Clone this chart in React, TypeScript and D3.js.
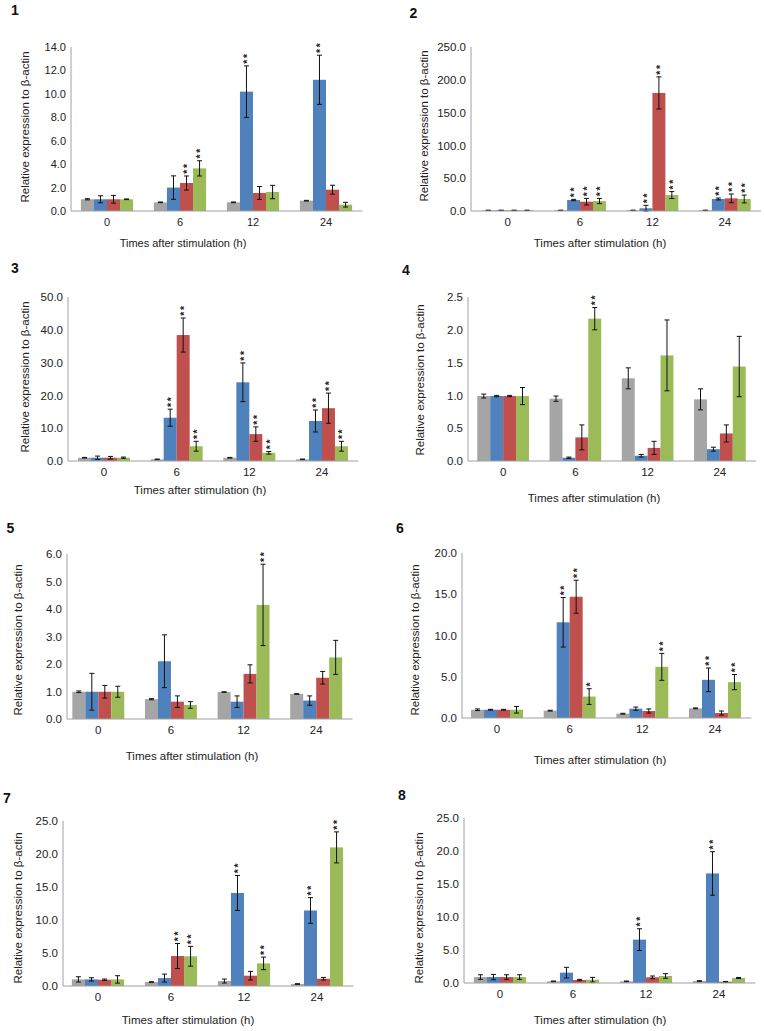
import React from "react";
import * as d3 from "d3";

const CATEGORIES = ["0", "6", "12", "24"];
const SERIES = ["Series 1", "Series 2", "Series 3", "Series 4"];
const COLORS = ["#A5A5A5", "#4F81BD", "#C0504D", "#9BBB59"];
const X_TITLE = "Times after stimulation (h)";
const Y_TITLE = "Relative expression to β-actin";

// Panel 1
const p1Values = [[1.0, 0.74, 0.74, 0.88], [1.0, 2.0, 10.19, 11.2], [1.0, 2.39, 1.54, 1.82], [1.0, 3.64, 1.62, 0.54]];
const p1Errors = [[0.05, 0.03, 0.03, 0.03], [0.3, 1.0, 2.2, 2.1], [0.33, 0.6, 0.55, 0.38], [0.03, 0.65, 0.57, 0.2]];
const p1Stars = [[0, 0, 0, 0], [0, 0, 2, 2], [0, 2, 0, 0], [0, 2, 0, 0]];
const p1Ticks = [0, 2, 4, 6, 8, 10, 12, 14];

// Panel 2
const p2Values = [[1, 1, 1, 1], [1, 16.7, 4.1, 18.3], [1, 14.2, 180, 19.3], [1, 15.2, 24.3, 18.3]];
const p2Errors = [[0.3, 0.3, 0.3, 0.3], [0.3, 1.0, 4.5, 1.5], [0.3, 5, 24.5, 6.6], [0.3, 4, 5.3, 6]];
const p2Stars = [[0, 0, 0, 0], [0, 2, 2, 2], [0, 2, 2, 2], [0, 2, 2, 2]];
const p2Ticks = [0, 50, 100, 150, 200, 250];

// Panel 3
const p3Values = [[1.0, 0.5, 1.0, 0.5], [1.0, 13.2, 24.0, 12.2], [1.0, 38.4, 8.2, 16.1], [1.0, 4.5, 2.5, 4.5]];
const p3Errors = [[0.1, 0.1, 0.1, 0.1], [0.5, 2.6, 5.9, 3.35], [0.4, 5.2, 2.2, 4.6], [0.2, 1.5, 0.4, 1.5]];
const p3Stars = [[0, 0, 0, 0], [0, 2, 2, 2], [0, 2, 2, 2], [0, 2, 2, 2]];
const p3Ticks = [0, 10, 20, 30, 40, 50];

// Panel 4
const p4Values = [[0.99, 0.95, 1.26, 0.94], [0.99, 0.05, 0.08, 0.18], [0.99, 0.36, 0.2, 0.42], [0.99, 2.17, 1.61, 1.44]];
const p4Errors = [[0.03, 0.04, 0.16, 0.16], [0.01, 0.01, 0.02, 0.03], [0.01, 0.19, 0.1, 0.13], [0.13, 0.17, 0.54, 0.46]];
const p4Stars = [[0, 0, 0, 0], [0, 0, 0, 0], [0, 0, 0, 0], [0, 2, 0, 0]];
const p4Ticks = [0, 0.5, 1.0, 1.5, 2.0, 2.5];

// Panel 5
const p5Values = [[0.99, 0.72, 0.98, 0.91], [0.99, 2.1, 0.63, 0.67], [0.99, 0.63, 1.64, 1.5], [0.99, 0.51, 4.15, 2.24]];
const p5Errors = [[0.03, 0.02, 0.01, 0.01], [0.67, 0.96, 0.21, 0.17], [0.23, 0.21, 0.33, 0.23], [0.2, 0.12, 1.48, 0.62]];
const p5Stars = [[0, 0, 0, 0], [0, 0, 0, 0], [0, 0, 0, 0], [0, 0, 2, 0]];
const p5Ticks = [0, 1, 2, 3, 4, 5, 6];

// Panel 6
const p6Values = [[1.0, 0.89, 0.52, 1.17], [1.0, 11.6, 1.13, 4.63], [1.0, 14.7, 0.85, 0.6], [1.0, 2.6, 6.2, 4.35]];
const p6Errors = [[0.1, 0.05, 0.05, 0.05], [0.05, 3.0, 0.2, 1.43], [0.05, 2.0, 0.25, 0.25], [0.4, 0.95, 1.63, 0.92]];
const p6Stars = [[0, 0, 0, 0], [0, 2, 0, 2], [0, 2, 0, 0], [0, 1, 2, 2]];
const p6Ticks = [0, 5, 10, 15, 20];

// Panel 7
const p7Values = [[1.0, 0.6, 0.75, 0.3], [1.0, 1.2, 14.1, 11.44], [0.95, 4.54, 1.56, 1.1], [1.0, 4.5, 3.43, 21.0]];
const p7Errors = [[0.4, 0.05, 0.3, 0.05], [0.25, 0.6, 2.65, 1.95], [0.1, 1.9, 0.65, 0.2], [0.56, 1.5, 0.95, 2.35]];
const p7Stars = [[0, 0, 0, 0], [0, 0, 2, 2], [0, 2, 0, 0], [0, 2, 2, 2]];
const p7Ticks = [0, 5, 10, 15, 20, 25];

// Panel 8
const p8Values = [[0.9, 0.25, 0.25, 0.3], [0.9, 1.57, 6.57, 16.6], [0.9, 0.45, 0.86, 0.2], [0.9, 0.5, 1.06, 0.76]];
const p8Errors = [[0.35, 0.05, 0.05, 0.05], [0.4, 0.8, 1.65, 3.3], [0.35, 0.1, 0.2, 0.03], [0.35, 0.35, 0.35, 0.08]];
const p8Stars = [[0, 0, 0, 0], [0, 0, 2, 2], [0, 0, 0, 0], [0, 0, 0, 0]];
const p8Ticks = [0, 5, 10, 15, 20, 25];

type Layout = {
  label: string; lx: number; ly: number;
  axisX: number; r0: number; r1: number; yTop: number; yBot: number;
  fs: number; tx: number; ty: number; yx: number; yy: number;
};

const PANELS: { layout: Layout; values: number[][]; errors: number[][]; stars: number[][]; ticks: number[] }[] = [
  { layout: { label: "1", lx: 15, ly: 15, axisX: 71, r0: 70.5, r1: 362.5, yTop: 47, yBot: 211, fs: 11, tx: 183, ty: 247, yx: 25, yy: 127 }, values: p1Values, errors: p1Errors, stars: p1Stars, ticks: p1Ticks },
  { layout: { label: "2", lx: 413.5, ly: 18, axisX: 471, r0: 471.5, r1: 761, yTop: 47, yBot: 211, fs: 11.5, tx: 600, ty: 247, yx: 424, yy: 126 }, values: p2Values, errors: p2Errors, stars: p2Stars, ticks: p2Ticks },
  { layout: { label: "3", lx: 15, ly: 273, axisX: 68, r0: 67.7, r1: 358.3, yTop: 297, yBot: 461, fs: 11.5, tx: 200, ty: 494, yx: 25, yy: 377 }, values: p3Values, errors: p3Errors, stars: p3Stars, ticks: p3Ticks },
  { layout: { label: "4", lx: 406, ly: 275, axisX: 468, r0: 467, r1: 756, yTop: 297, yBot: 461, fs: 11.5, tx: 594, ty: 502, yx: 420, yy: 380 }, values: p4Values, errors: p4Errors, stars: p4Stars, ticks: p4Ticks },
  { layout: { label: "5", lx: 10.5, ly: 533, axisX: 67, r0: 62, r1: 352.5, yTop: 554, yBot: 719, fs: 11.5, tx: 192, ty: 760, yx: 18, yy: 640 }, values: p5Values, errors: p5Errors, stars: p5Stars, ticks: p5Ticks },
  { layout: { label: "6", lx: 400, ly: 533, axisX: 462, r0: 460.7, r1: 751.3, yTop: 553, yBot: 718, fs: 11.5, tx: 600, ty: 764, yx: 415, yy: 640 }, values: p6Values, errors: p6Errors, stars: p6Stars, ticks: p6Ticks },
  { layout: { label: "7", lx: 7, ly: 803, axisX: 63, r0: 61.5, r1: 353.5, yTop: 821, yBot: 986, fs: 11.5, tx: 188, ty: 1024, yx: 18, yy: 908 }, values: p7Values, errors: p7Errors, stars: p7Stars, ticks: p7Ticks },
  { layout: { label: "8", lx: 402, ly: 800, axisX: 464, r0: 463.5, r1: 755.5, yTop: 818, yBot: 983, fs: 11.5, tx: 600, ty: 1024, yx: 419, yy: 908 }, values: p8Values, errors: p8Errors, stars: p8Stars, ticks: p8Ticks },
];

const FONT = "'Liberation Sans', Arial, Helvetica, sans-serif";
const fmt = d3.format(".1f");

function Panel({ p }: { p: (typeof PANELS)[number] }) {
  const L = p.layout;
  const x0 = d3.scaleBand<string>().domain(CATEGORIES).range([L.r0, L.r1]).paddingInner(0.285).paddingOuter(0.1425);
  const x1 = d3.scaleBand<string>().domain(SERIES).range([0, x0.bandwidth()]);
  const max = p.ticks[p.ticks.length - 1];
  const y = d3.scaleLinear().domain([0, max]).range([L.yBot, L.yTop]);
  const cap = 2.5;
  return (
    <g>
      <text x={L.lx} y={L.ly} fontSize={14} fontWeight="bold" textAnchor="middle" fill="#111">{L.label}</text>
      {p.ticks.map((t) => (
        <text key={"t" + t} x={L.axisX - 5} y={y(t)} dy="0.36em" fontSize={L.fs} textAnchor="end" fill="#222">{fmt(t)}</text>
      ))}
      {SERIES.map((s, si) =>
        CATEGORIES.map((c, ci) => {
          const v = p.values[si][ci];
          const bx = (x0(c) as number) + (x1(s) as number);
          return <rect key={s + c} x={bx} y={y(v)} width={x1.bandwidth()} height={y(0) - y(v)} fill={COLORS[si]} />;
        })
      )}
      {SERIES.map((s, si) =>
        CATEGORIES.map((c, ci) => {
          const v = p.values[si][ci];
          const e = p.errors[si][ci];
          const cx = (x0(c) as number) + (x1(s) as number) + x1.bandwidth() / 2;
          const yt = y(v + e);
          const yb = y(Math.max(0, v - e));
          const n = p.stars[si][ci];
          return (
            <g key={"e" + s + c}>
              <line x1={cx} x2={cx} y1={yt} y2={yb} stroke="#111" strokeWidth={1} />
              <line x1={cx - cap} x2={cx + cap} y1={yt} y2={yt} stroke="#111" strokeWidth={1} />
              <line x1={cx - cap} x2={cx + cap} y1={yb} y2={yb} stroke="#111" strokeWidth={1} />
              {n > 0 && (
                <text
                  transform={`translate(${cx},${yt - 2.2}) rotate(-90)`}
                  dy="0.45em"
                  fontSize={10.5}
                  fontWeight="bold"
                  letterSpacing={1.6}
                  textAnchor="start"
                  fill="#222"
                >
                  {"*".repeat(n)}
                </text>
              )}
            </g>
          );
        })
      )}
      <line x1={L.axisX} x2={L.axisX} y1={L.yTop} y2={L.yBot} stroke="#A0A0A0" strokeWidth={1} />
      <line x1={L.axisX} x2={L.r1} y1={L.yBot} y2={L.yBot} stroke="#A0A0A0" strokeWidth={1} />
      {CATEGORIES.map((c) => (
        <text key={"x" + c} x={(x0(c) as number) + x0.bandwidth() / 2} y={L.yBot + 15} fontSize={L.fs} textAnchor="middle" fill="#222">{c}</text>
      ))}
      <text x={L.tx} y={L.ty} fontSize={L.fs} textAnchor="middle" fill="#222">{X_TITLE}</text>
      <text transform={`translate(${L.yx},${L.yy}) rotate(-90)`} dy="0.35em" fontSize={11.5} textAnchor="middle" fill="#222">{Y_TITLE}</text>
    </g>
  );
}

export default function App() {
  return (
    <svg width={764} height={1031} style={{ position: "absolute", left: 0, top: 0, background: "#fff" }} fontFamily={FONT}>
      <rect width={764} height={1031} fill="#fff" />
      {PANELS.map((p, i) => (
        <Panel key={i} p={p} />
      ))}
    </svg>
  );
}
